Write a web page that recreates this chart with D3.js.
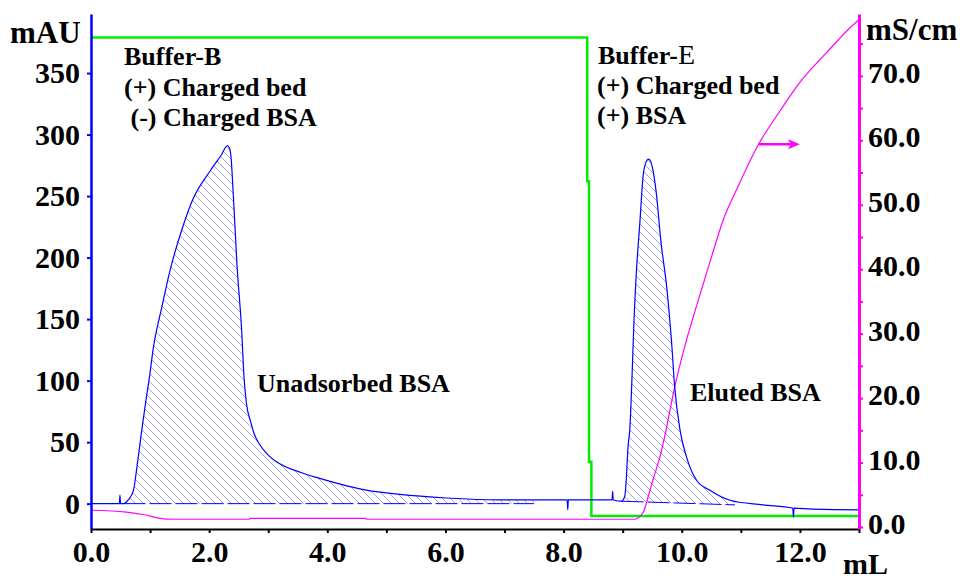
<!DOCTYPE html>
<html>
<head>
<meta charset="utf-8">
<script src="https://cdn.jsdelivr.net/npm/d3@7"></script>
<style>
  body { margin: 0; background: #fff; }
  svg text { font-family: "Liberation Serif", "Times New Roman", serif; font-weight: bold; fill: #000; }
</style>
</head>
<body>
<svg width="967" height="579"></svg>
<script>
// UV absorbance trace [mL, mAU]
const uvTrace = [
  [0, 0], [0.48, 0], [0.49, 7], [0.5, 0], [0.55, 0], [0.63, 3], [0.72, 11], [0.77, 27],
  [0.83, 49], [0.86, 60], [0.93, 84], [0.99, 103], [1.05, 125], [1.2, 160], [1.34, 190],
  [1.54, 223], [1.73, 248], [2.01, 270], [2.2, 283], [2.31, 291], [2.36, 286], [2.41, 250],
  [2.47, 195], [2.55, 141], [2.59, 103], [2.63, 82], [2.7, 67], [2.76, 57], [2.86, 47.7],
  [3.0, 39.5], [3.14, 34], [3.54, 25.5], [3.87, 20.5], [4.33, 14.5], [4.66, 11], [5.23, 7.5],
  [6.02, 4.6], [6.92, 3], [8.06, 3], [8.07, -5], [8.08, 3], [8.82, 3], [8.83, 10], [8.84, 3],
  [8.98, 2], [9.035, 6], [9.06, 19], [9.09, 46], [9.12, 60], [9.16, 106], [9.19, 147],
  [9.23, 187], [9.29, 228], [9.345, 266], [9.39, 277], [9.44, 280], [9.5, 274], [9.57, 252],
  [9.645, 214], [9.75, 174], [9.825, 133], [9.88, 95], [9.97, 60], [10.08, 38], [10.25, 19],
  [10.47, 11], [10.8, 3], [11.37, -1], [11.88, -3.7], [11.89, -11], [11.9, -3.7],
  [12.2, -4.5], [12.98, -5], [13, -5]
];

// conductivity trace [mL, mS/cm]
const condTrace = [
  [0, 2.6], [0.6, 2.3], [0.9, 1.9], [1.17, 1.35], [1.37, 1.2], [2.68, 1.2], [2.69, 1.35],
  [4.65, 1.35], [4.66, 1.2], [9.2, 1.2], [9.35, 2.33], [9.43, 4.66], [9.51, 7.25],
  [9.63, 10.87], [9.71, 13.98], [9.88, 21.7], [10.08, 29.0], [10.28, 35.2], [10.47, 40.9],
  [10.7, 47.6], [10.95, 52.8], [11.3, 59.4], [11.6, 63.7], [12.0, 69.0], [12.45, 73.6],
  [12.96, 78.4], [13, 78.7]
];

// buffer step (drawn on the mAU scale)
const bufferStep = [
  [0, 379], [8.40, 379], [8.40, 262], [8.43, 262], [8.43, 34], [8.47, 34], [8.47, -10], [13, -10]
];

// integration ranges: [start, end] with baseline values at each end (mAU)
const peak1Range = [0.55, 7.5], peak1Base = [0, 0];
const peak2Range = [8.98, 10.9], peak2Base = [2, -1];

// arrow pointing at the conductivity axis [x0, x1, y (mS/cm)]
const condArrow = [11.3, 12.0, 59.4];

const mauTicks = [0, 50, 100, 150, 200, 250, 300, 350];
const mlTicks = d3.range(0, 14, 1);
const condTicks = d3.range(0, 80, 5);

const svg = d3.select("svg");

const x = d3.scaleLinear().domain([0, 13]).range([91, 859]);
const yL = d3.scaleLinear().domain([-20.6, 398]).range([529, 14]);
const yR = d3.scaleLinear().domain([-0.31, 79.6]).range([529, 14]);

// hatch pattern for integrated peaks
svg.append("defs").append("pattern")
    .attr("id", "hatch")
    .attr("patternUnits", "userSpaceOnUse")
    .attr("width", 8).attr("height", 8)
  .append("path")
    .attr("d", "M-1,-1 L9,9 M-1,7 L1,9 M7,-1 L9,1")
    .attr("stroke", "#a4a4ee")
    .attr("stroke-width", 1);

// interpolate uv value at any mL
function uvAt(v) {
  for (let i = 1; i < uvTrace.length; i++) {
    const a = uvTrace[i - 1], b = uvTrace[i];
    if (v >= a[0] && v <= b[0]) {
      return b[0] === a[0] ? b[1] : a[1] + (b[1] - a[1]) * (v - a[0]) / (b[0] - a[0]);
    }
  }
  return 0;
}

function peakRegion(range, base) {
  const baseAt = v => base[0] + (base[1] - base[0]) * (v - range[0]) / (range[1] - range[0]);
  const pts = [[range[0], uvAt(range[0])]]
    .concat(uvTrace.filter(d => d[0] > range[0] && d[0] < range[1]))
    .concat([[range[1], uvAt(range[1])]]);
  return pts.map(d => ({ x: d[0], y1: Math.max(d[1], baseAt(d[0])), y0: baseAt(d[0]) }));
}

const area = d3.area()
    .curve(d3.curveMonotoneX)
    .x(d => x(d.x))
    .y0(d => yL(d.y0))
    .y1(d => yL(d.y1));

[[peak1Range, peak1Base], [peak2Range, peak2Base]].forEach(([r, b]) => {
  svg.append("path")
      .datum(peakRegion(r, b))
      .attr("d", area)
      .attr("fill", "url(#hatch)");
  svg.append("line")
      .attr("x1", x(r[0])).attr("y1", yL(b[0]))
      .attr("x2", x(r[1])).attr("y2", yL(b[1]))
      .attr("stroke", "#0000ff")
      .attr("stroke-width", 1)
      .attr("stroke-dasharray", "22,4");
});

// buffer step line
svg.append("path")
    .datum(bufferStep)
    .attr("d", d3.line().x(d => x(d[0])).y(d => yL(d[1])))
    .attr("fill", "none")
    .attr("stroke", "#00ee00")
    .attr("stroke-width", 2.5);

// conductivity
svg.append("path")
    .datum(condTrace)
    .attr("d", d3.line().curve(d3.curveMonotoneX).x(d => x(d[0])).y(d => yR(d[1])))
    .attr("fill", "none")
    .attr("stroke", "#ff00ff")
    .attr("stroke-width", 1.2);

// uv trace
svg.append("path")
    .datum(uvTrace)
    .attr("d", d3.line().curve(d3.curveMonotoneX).x(d => x(d[0])).y(d => yL(d[1])))
    .attr("fill", "none")
    .attr("stroke", "#0000ff")
    .attr("stroke-width", 1.2);

// arrow
const ax0 = x(condArrow[0]), ax1 = x(condArrow[1]), ay = yR(condArrow[2]);
svg.append("line")
    .attr("x1", ax0).attr("y1", ay).attr("x2", ax1 - 4).attr("y2", ay)
    .attr("stroke", "#ff00ff").attr("stroke-width", 2.5);
svg.append("path")
    .attr("d", `M${ax1},${ay} L${ax1 - 12},${ay - 5} L${ax1 - 9},${ay} L${ax1 - 12},${ay + 5} Z`)
    .attr("fill", "#ff00ff");

// axes
const xAxis = svg.append("g")
    .attr("transform", "translate(0,529)")
    .call(d3.axisBottom(x).tickValues(mlTicks).tickSize(4).tickSizeOuter(0).tickPadding(8)
      .tickFormat(d => d % 2 === 0 ? d3.format(".1f")(d) : ""));
xAxis.select(".domain").attr("stroke", "#000").attr("stroke-width", 2);
xAxis.selectAll(".tick line").attr("stroke", "#000").attr("stroke-width", 2);
xAxis.selectAll("text").style("font-size", "30px").attr("fill", "#000");

const lAxis = svg.append("g")
    .attr("transform", "translate(91,0)")
    .call(d3.axisLeft(yL).tickValues(mauTicks).tickSize(4).tickSizeOuter(0).tickPadding(7));
lAxis.select(".domain").attr("stroke", "#0000ff").attr("stroke-width", 2.5);
lAxis.selectAll(".tick line").attr("stroke", "#0000ff").attr("stroke-width", 2);
lAxis.selectAll("text").style("font-size", "30px").attr("fill", "#000");

const rAxis = svg.append("g")
    .attr("transform", "translate(859,0)")
    .call(d3.axisRight(yR).tickValues(condTicks).tickSize(4).tickSizeOuter(0).tickPadding(5)
      .tickFormat(d => d % 10 === 0 ? d3.format(".1f")(d) : ""));
rAxis.select(".domain").attr("stroke", "#ff00ff").attr("stroke-width", 3);
rAxis.selectAll(".tick line").attr("stroke", "#ff00ff").attr("stroke-width", 2);
rAxis.selectAll("text").style("font-size", "30px").attr("fill", "#000").attr("dy", "0.22em");

// axis titles
svg.append("text").attr("x", 10).attr("y", 43).style("font-size", "31px").text("mAU");
svg.append("text").attr("x", 866).attr("y", 40).style("font-size", "31px").text("mS/cm");
svg.append("text").attr("x", 843).attr("y", 574).style("font-size", "30px").text("mL");

// annotations
const notes = [
  { x: 124, y: 65, t: "Buffer-B" },
  { x: 124, y: 96, t: "(+) Charged bed" },
  { x: 124, y: 126, t: "\u00a0(-) Charged BSA" },
  { x: 597, y: 94, t: "(+) Charged bed" },
  { x: 597, y: 124, t: "(+) BSA" },
  { x: 257, y: 392, t: "Unadsorbed BSA" },
  { x: 690, y: 401, t: "Eluted BSA" }
];
svg.selectAll(".note")
  .data(notes)
  .enter()
  .append("text")
    .attr("class", "note")
    .attr("x", d => d.x)
    .attr("y", d => d.y)
    .style("font-size", "26px")
    .text(d => d.t);

const bE = svg.append("text").attr("x", 598).attr("y", 64).style("font-size", "26px");
bE.append("tspan").text("Buffer-");
bE.append("tspan").style("font-weight", "normal").style("font-size", "28px").text("E");
</script>
</body>
</html>
